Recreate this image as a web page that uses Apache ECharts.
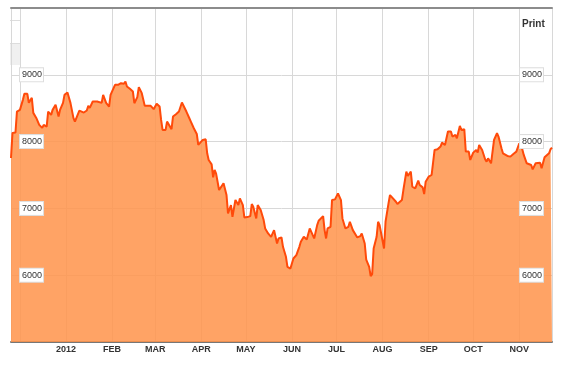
<!DOCTYPE html>
<html>
<head>
<meta charset="utf-8">
<script src="https://cdn.jsdelivr.net/npm/echarts@6/dist/echarts.min.js"></script>
<style>
  html, body { margin: 0; padding: 0; background: #fff; }
  #chart { width: 575px; height: 368px; }
</style>
</head>
<body>
<div id="chart"></div>
<script>
// daily closes
const dates = [
  '2011-11-25','2011-11-26','2011-11-28','2011-11-29',
  '2011-12-01','2011-12-03','2011-12-04','2011-12-06','2011-12-07','2011-12-09','2011-12-10','2011-12-12',
  '2011-12-14','2011-12-16','2011-12-17','2011-12-19','2011-12-20','2011-12-22','2011-12-23','2011-12-25',
  '2011-12-26','2011-12-27','2011-12-28','2011-12-30','2011-12-31',
  '2012-01-02','2012-01-03','2012-01-04','2012-01-06','2012-01-07','2012-01-08','2012-01-10','2012-01-11',
  '2012-01-13','2012-01-15','2012-01-16','2012-01-17','2012-01-19','2012-01-20','2012-01-22','2012-01-23',
  '2012-01-25','2012-01-26','2012-01-28','2012-01-30','2012-01-31',
  '2012-02-02','2012-02-03','2012-02-05','2012-02-07','2012-02-09','2012-02-10','2012-02-11','2012-02-13',
  '2012-02-15','2012-02-16','2012-02-18','2012-02-19','2012-02-21','2012-02-23','2012-02-25','2012-02-27','2012-02-29',
  '2012-03-02','2012-03-04','2012-03-05','2012-03-06','2012-03-08','2012-03-09','2012-03-10','2012-03-12',
  '2012-03-13','2012-03-15','2012-03-17','2012-03-19','2012-03-20','2012-03-22','2012-03-24','2012-03-25',
  '2012-03-27','2012-03-29','2012-03-30','2012-03-31',
  '2012-04-02','2012-04-04','2012-04-05','2012-04-06','2012-04-08','2012-04-09','2012-04-10','2012-04-11',
  '2012-04-13','2012-04-14','2012-04-16','2012-04-18','2012-04-19','2012-04-21','2012-04-22','2012-04-24',
  '2012-04-26','2012-04-27','2012-04-29','2012-04-30',
  '2012-05-02','2012-05-04','2012-05-05','2012-05-06','2012-05-08','2012-05-09','2012-05-11','2012-05-13',
  '2012-05-14','2012-05-16','2012-05-18','2012-05-19','2012-05-20','2012-05-22','2012-05-23','2012-05-25',
  '2012-05-26','2012-05-28','2012-05-29','2012-05-31',
  '2012-06-01','2012-06-02','2012-06-04','2012-06-06','2012-06-07','2012-06-09','2012-06-11','2012-06-13',
  '2012-06-14','2012-06-16','2012-06-18','2012-06-19','2012-06-20','2012-06-22','2012-06-23','2012-06-24',
  '2012-06-25','2012-06-27','2012-06-28','2012-06-30',
  '2012-07-02','2012-07-04','2012-07-05','2012-07-07','2012-07-09','2012-07-10','2012-07-12','2012-07-13',
  '2012-07-15','2012-07-17','2012-07-18','2012-07-20','2012-07-21','2012-07-23','2012-07-24','2012-07-25',
  '2012-07-26','2012-07-28','2012-07-29','2012-07-30','2012-07-31',
  '2012-08-02','2012-08-03','2012-08-05','2012-08-06','2012-08-08','2012-08-10','2012-08-11','2012-08-12',
  '2012-08-14','2012-08-15','2012-08-17','2012-08-18','2012-08-20','2012-08-21','2012-08-23','2012-08-25',
  '2012-08-26','2012-08-28','2012-08-29','2012-08-30',
  '2012-09-01','2012-09-03','2012-09-05','2012-09-07','2012-09-09','2012-09-10','2012-09-12','2012-09-14',
  '2012-09-16','2012-09-17','2012-09-19','2012-09-20','2012-09-22','2012-09-23','2012-09-25','2012-09-26',
  '2012-09-28','2012-09-29',
  '2012-10-01','2012-10-03','2012-10-04','2012-10-05','2012-10-07','2012-10-09','2012-10-10','2012-10-11',
  '2012-10-13','2012-10-14','2012-10-15','2012-10-17','2012-10-18','2012-10-20','2012-10-21','2012-10-22',
  '2012-10-24','2012-10-25','2012-10-26','2012-10-28','2012-10-30','2012-10-31',
  '2012-11-01','2012-11-03','2012-11-04','2012-11-06','2012-11-07','2012-11-09','2012-11-10','2012-11-12',
  '2012-11-13','2012-11-15','2012-11-16','2012-11-18','2012-11-19','2012-11-21','2012-11-22','2012-11-23'
];
const closes = [
  7755,8130,8135,8450,
  8475,8625,8715,8715,8580,8655,8430,8355,
  8250,8205,8250,8225,8450,8400,8475,8550,
  8535,8375,8475,8580,8700,
  8735,8725,8580,8355,8300,8315,8465,8450,
  8435,8465,8535,8505,8600,8580,8600,8625,
  8580,8700,8580,8525,8700,
  8800,8850,8850,8875,8865,8900,8825,8790,
  8750,8575,8665,8815,8725,8535,8535,8535,8485,
  8565,8525,8325,8175,8175,8300,8275,8185,
  8375,8410,8450,8585,8575,8450,8350,8300,
  8200,8115,7950,7925,
  8025,8035,7825,7725,7660,7465,7575,7520,
  7275,7250,7375,7200,6925,7050,6875,7125,
  7050,7150,7050,6865,
  6870,6885,7065,7025,6850,7050,6975,6825,
  6700,6625,6575,6575,6675,6475,6550,6565,
  6425,6275,6125,6100,
  6100,6250,6300,6425,6500,6575,6535,6700,
  6725,6550,6750,6815,6800,6885,6675,6550,
  6700,6725,7125,7135,
  7225,7125,6850,6700,6725,6800,6675,6650,
  6565,6585,6625,6475,6235,6125,5985,6015,
  6400,6575,6800,6750,6735,
  6400,6800,7075,7200,7150,7100,7065,7075,
  7125,7275,7550,7485,7550,7325,7300,7415,
  7350,7315,7215,7400,
  7475,7500,7875,7885,7925,7985,7950,8150,
  8150,8075,8100,8050,8235,8175,8185,7850,
  7850,7725,
  7835,7875,7835,7950,7875,7735,7700,7750,
  7675,7675,8025,8125,8075,7900,7825,7800,
  7785,7800,7775,7815,7850,7875,
  7975,7885,7800,7675,7650,7650,7585,7675,
  7700,7685,7600,7765,7785,7825,7885,7910
];
const monthNames = ['', 'FEB', 'MAR', 'APR', 'MAY', 'JUN', 'JUL', 'AUG', 'SEP', 'OCT', 'NOV', ''];
const xStart = '2011-11-25';
const xEnd = '2012-11-23';
const yMin = 5000;
const yMax = 10000;
const yStep = 1000;

const DAY = 24 * 3600 * 1000;
const FONT = 'Arial, "Liberation Sans", sans-serif';

function monthLabel(value) {
  const d = new Date(value);
  const m = d.getMonth();
  if (m === 0) {
    return String(d.getFullYear());
  }
  return monthNames[m];
}

function valueAxis(position, withGrid, withLabels) {
  return {
    type: 'value',
    position: position,
    min: yMin,
    max: yMax,
    interval: yStep,
    z: withLabels ? 5 : 0,
    axisLine: {show: false},
    axisTick: {show: false},
    splitLine: {show: withGrid, lineStyle: {color: '#d8d8d8', width: 1}},
    axisLabel: {
      show: withLabels,
      inside: true,
      margin: 9,
      showMinLabel: false,
      showMaxLabel: false,
      formatter: (v) => String(v),
      fontFamily: FONT,
      fontSize: 9,
      color: '#333',
      backgroundColor: '#fff',
      borderColor: '#ddd',
      borderWidth: 1,
      padding: [2, 1, 2, 2]
    }
  };
}

const chart = echarts.init(document.getElementById('chart'));
chart.setOption({
  animation: false,
  grid: {left: 11, right: 23, top: 8, bottom: 26},
  xAxis: [{
    type: 'time',
    min: xStart,
    max: xEnd,
    splitNumber: 12,
    minInterval: 28 * DAY,
    maxInterval: 31 * DAY,
    axisLine: {lineStyle: {color: '#777', width: 2}},
    axisTick: {show: false},
    axisLabel: {
      formatter: monthLabel,
      fontFamily: FONT,
      fontWeight: 'bold',
      fontSize: 9,
      color: '#333',
      margin: 3,
      hideOverlap: false
    },
    splitLine: {show: true, lineStyle: {color: '#d8d8d8', width: 1}}
  }, {
    type: 'time',
    position: 'top',
    min: xStart,
    max: xEnd,
    axisLine: {lineStyle: {color: '#8c8c8c', width: 2}},
    axisTick: {show: false},
    axisLabel: {show: false},
    splitLine: {show: false}
  }],
  yAxis: [
    valueAxis('left', true, false),
    valueAxis('left', false, true),
    valueAxis('right', false, true)
  ],
  series: [{
    type: 'line',
    xAxisIndex: 0,
    yAxisIndex: 0,
    data: dates.map((d, i) => [d, closes[i]]),
    showSymbol: false,
    lineStyle: {color: '#ff4a0a', width: 2},
    areaStyle: {color: 'rgb(255,148,76)', opacity: 0.86, origin: 'start'}
  }],
  graphic: [
    {type: 'text', left: 522, top: 19,
      style: {text: 'Print', fontFamily: FONT, fontWeight: 'bold', fontSize: 10, fill: '#333'}},
    {type: 'rect', shape: {x: 10, y: 43, width: 10, height: 22}, style: {fill: '#f0f0f0'}},
    {type: 'line', shape: {x1: 10, y1: 20.5, x2: 20, y2: 20.5}, style: {stroke: '#ddd', lineWidth: 1}},
    {type: 'line', shape: {x1: 10, y1: 43.5, x2: 20, y2: 43.5}, style: {stroke: '#ddd', lineWidth: 1}}
  ]
});
</script>
</body>
</html>
